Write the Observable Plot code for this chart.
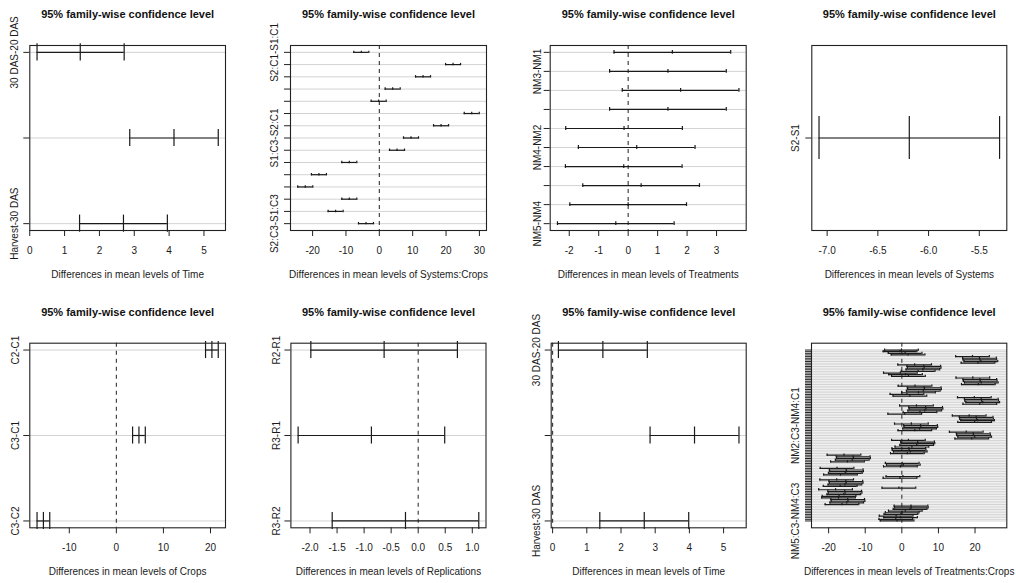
<!DOCTYPE html>
<html>
<head>
<meta charset="utf-8">
<script src="https://cdn.jsdelivr.net/npm/d3@7"></script>
<script src="https://cdn.jsdelivr.net/npm/@observablehq/plot@0.6"></script>
<style>
  html, body { margin: 0; padding: 0; background: #fff; }
  #grid { position: relative; width: 1016px; height: 583px; overflow: hidden; background: #fff; }
  .cell { position: absolute; width: 254px; }
  .cell svg { overflow: visible; }
</style>
</head>
<body>
<div id="grid"></div>
<script>
// Tukey HSD comparisons: difference in means with lower/upper 95% family-wise bounds.

const mainTitle = "95% family-wise confidence level";

// Time
const timeNames = ["30 DAS-20 DAS", "Harvest-20 DAS", "Harvest-30 DAS"];
const timeDiff = [1.45, 4.14, 2.69];
const timeLwr = [0.21, 2.87, 1.43];
const timeUpr = [2.71, 5.41, 3.95];
const timeTicks = [0, 1, 2, 3, 4, 5];

// Systems:Crops
const scNames = ["S2:C1-S1:C1", "S1:C2-S1:C1", "S2:C2-S1:C1", "S1:C3-S1:C1", "S2:C3-S1:C1",
  "S1:C2-S2:C1", "S2:C2-S2:C1", "S1:C3-S2:C1", "S2:C3-S2:C1", "S2:C2-S1:C2",
  "S1:C3-S1:C2", "S2:C3-S1:C2", "S1:C3-S2:C2", "S2:C3-S2:C2", "S2:C3-S1:C3"];
const scDiff = [-5.4, 22.1, 13.1, 4.0, -0.2, 27.7, 18.5, 9.5, 5.3, -9.0, -18.1, -22.2, -9.0, -13.1, -4.0];
const scLwr = [-7.65, 19.85, 10.85, 1.75, -2.45, 25.45, 16.25, 7.25, 3.05, -11.25, -20.35, -24.45, -11.25, -15.35, -6.25];
const scUpr = [-3.15, 24.35, 15.35, 6.25, 2.05, 29.95, 20.75, 11.75, 7.55, -6.75, -15.85, -19.95, -6.75, -10.85, -1.75];
const scTicks = [-20, -10, 0, 10, 20, 30];

// Treatments
const trNames = ["NM2-NM1", "NM3-NM1", "NM4-NM1", "NM5-NM1", "NM3-NM2",
  "NM4-NM2", "NM5-NM2", "NM4-NM3", "NM5-NM3", "NM5-NM4"];
const trDiff = [1.50, 1.35, 1.78, 1.35, -0.14, 0.29, -0.15, 0.44, 0.00, -0.42];
const trLwr = [-0.48, -0.63, -0.20, -0.63, -2.12, -1.69, -2.13, -1.54, -1.98, -2.40];
const trUpr = [3.48, 3.33, 3.76, 3.33, 1.84, 2.27, 1.83, 2.42, 1.98, 1.56];
const trTicks = [-2, -1, 0, 1, 2, 3];

// Systems
const sysNames = ["S2-S1"];
const sysDiff = [-6.19];
const sysLwr = [-7.08];
const sysUpr = [-5.30];
const sysTicks = [-7.0, -6.5, -6.0, -5.5];

// Crops
const cropNames = ["C2-C1", "C3-C1", "C3-C2"];
const cropDiff = [20.3, 4.8, -15.5];
const cropLwr = [18.95, 3.45, -16.85];
const cropUpr = [21.65, 6.15, -14.15];
const cropTicks = [-10, 0, 10, 20];

// Replications
const repNames = ["R2-R1", "R3-R1", "R3-R2"];
const repDiff = [-0.63, -0.865, -0.235];
const repLwr = [-1.985, -2.22, -1.59];
const repUpr = [0.725, 0.49, 1.12];
const repTicks = [-2.0, -1.5, -1.0, -0.5, 0.0, 0.5, 1.0];

// Time (second model)
const time2Names = ["30 DAS-20 DAS", "Harvest-20 DAS", "Harvest-30 DAS"];
const time2Diff = [1.47, 4.15, 2.68];
const time2Lwr = [0.17, 2.85, 1.38];
const time2Upr = [2.77, 5.45, 3.98];

// Treatments:Crops (15 levels, 105 pairwise comparisons)
const tcLevels = ["NM1:C1", "NM2:C1", "NM3:C1", "NM4:C1", "NM5:C1",
  "NM1:C2", "NM2:C2", "NM3:C2", "NM4:C2", "NM5:C2",
  "NM1:C3", "NM2:C3", "NM3:C3", "NM4:C3", "NM5:C3"];
const tcDiff = [
  -0.1, -0.5, 0.9, 1.7, 19.3, 21.2, 21.3, 21.6, 20.8, 3.5, 6.0, 6.1, 5.75, 4.45,
  -0.4, 1.0, 1.8, 19.4, 21.3, 21.4, 21.7, 20.9, 3.6, 6.1, 6.2, 5.85, 4.55,
  1.4, 2.2, 19.8, 21.7, 21.8, 22.1, 21.3, 4.0, 6.5, 6.6, 6.25, 4.95,
  0.8, 18.4, 20.3, 20.4, 20.7, 19.9, 2.6, 5.1, 5.2, 4.85, 3.55,
  17.6, 19.5, 19.6, 19.9, 19.1, 1.8, 4.3, 4.4, 4.05, 2.75,
  1.9, 2.0, 2.3, 1.5, -15.8, -13.3, -13.2, -13.55, -14.85,
  0.1, 0.4, -0.4, -17.7, -15.2, -15.1, -15.45, -16.75,
  0.3, -0.5, -17.8, -15.3, -15.2, -15.55, -16.85,
  -0.8, -18.1, -15.6, -15.5, -15.85, -17.15,
  -17.3, -14.8, -14.7, -15.05, -16.35,
  2.5, 2.6, 2.25, 0.95,
  0.1, -0.25, -1.55,
  -0.35, -1.65,
  -1.3
];
const tcHalfWidth = 4.6;
const tcTicks = [-20, -10, 0, 10, 20];

// comparison names in lower-triangle order: later level minus earlier level
const tcNames = [];
for (let i = 0; i < tcLevels.length; i++)
  for (let j = i + 1; j < tcLevels.length; j++) tcNames.push(`${tcLevels[j]}-${tcLevels[i]}`);
const tcLwr = tcDiff.map(d => +(d - tcHalfWidth).toFixed(2));
const tcUpr = tcDiff.map(d => +(d + tcHalfWidth).toFixed(2));

const font = "'Liberation Sans', Arial, Helvetica, sans-serif";
const ink = "#1a1a1a";

function tukeyPanel(o) {
  const n = o.names.length;
  const rows = o.names.map((name, i) => ({name, y: n - i, diff: o.diff[i], lwr: o.lwr[i], upr: o.upr[i]}));
  const lo = d3.min(o.lwr), hi = d3.max(o.upr), r = hi - lo;
  const xDomain = [lo - 0.04 * r, hi + 0.04 * r];
  const yDomain = n > 1 ? [1 - 0.04 * (n - 1), n + 0.04 * (n - 1)] : [0.568, 1.432];
  const cap = o.cap ?? 0.1;
  const caps = rows.flatMap(d => [d.lwr, d.diff, d.upr].map(x => ({x, y: d.y})));
  const labelled = rows.filter((d, i) => o.labelRows.includes(i + 1));
  const hasZero = xDomain[0] <= 0 && xDomain[1] >= 0;
  return Plot.plot({
    width: 254,
    height: o.height,
    marginLeft: o.box.left,
    marginRight: 254 - o.box.right,
    marginTop: o.box.top,
    marginBottom: o.height - o.box.bottom,
    x: {domain: xDomain},
    y: {domain: yDomain},
    style: {fontFamily: font, fontSize: "10px", color: ink, background: "transparent", overflow: "visible"},
    marks: [
      Plot.ruleY(rows, {y: "y", stroke: "#d3d3d3", strokeWidth: 1}),
      hasZero ? Plot.ruleX([0], {stroke: "#333", strokeWidth: 1.1, strokeDasharray: "4,4"}) : null,
      Plot.ruleY(rows, {y: "y", x1: "lwr", x2: "upr", stroke: ink, strokeWidth: 1.2}),
      Plot.ruleX(caps, {x: "x", y1: d => d.y - cap, y2: d => d.y + cap, stroke: ink, strokeWidth: 1.2}),
      Plot.frame({stroke: "#222", strokeWidth: 1.1}),
      Plot.axisX({ticks: o.ticks, tickFormat: o.tickFormat, tickSize: 6, tickPadding: 10, label: null, stroke: "#222"}),
      Plot.axisY({ticks: rows.map(d => d.y), tickSize: 6, tickFormat: () => "", label: null, stroke: "#222"}),
      Plot.text(labelled, {y: "y", text: "name", frameAnchor: "left", dx: -o.labelGap, rotate: -90,
        textAnchor: "middle", lineAnchor: "bottom", fontSize: 10, fill: ink}),
      Plot.text([mainTitle], {frameAnchor: "top", dy: -31, lineAnchor: "middle", fontSize: 11, fontWeight: "bold", fill: "#111"}),
      Plot.text([o.xlabel], {frameAnchor: "bottom", dy: 44, lineAnchor: "middle", fontSize: 10, fill: ink})
    ]
  });
}

const oneDecimal = d => d.toFixed(1);
const plain = d => String(d);

const topBox = {top: 45, bottom: 230};
const botBox = {top: 52.7, bottom: 237.3};

const panels = [
  {col: 0, row: 0, names: timeNames, diff: timeDiff, lwr: timeLwr, upr: timeUpr, ticks: timeTicks, tickFormat: plain,
   xlabel: "Differences in mean levels of Time", labelRows: [1, 3], labelGap: 12, box: {left: 29.3, right: 225, ...topBox}},
  {col: 1, row: 0, names: scNames, diff: scDiff, lwr: scLwr, upr: scUpr, ticks: scTicks, tickFormat: plain,
   xlabel: "Differences in mean levels of Systems:Crops", labelRows: [1, 8, 15], labelGap: 13, box: {left: 36, right: 232, ...topBox}},
  {col: 2, row: 0, names: trNames, diff: trDiff, lwr: trLwr, upr: trUpr, ticks: trTicks, tickFormat: plain,
   xlabel: "Differences in mean levels of Treatments", labelRows: [2, 6, 10], labelGap: 9, box: {left: 41.7, right: 237.7, ...topBox}},
  {col: 3, row: 0, names: sysNames, diff: sysDiff, lwr: sysLwr, upr: sysUpr, ticks: sysTicks, tickFormat: oneDecimal,
   xlabel: "Differences in mean levels of Systems", labelRows: [1], labelGap: 12.5, box: {left: 49.3, right: 244.3, ...topBox}},
  {col: 0, row: 1, names: cropNames, diff: cropDiff, lwr: cropLwr, upr: cropUpr, ticks: cropTicks, tickFormat: plain,
   xlabel: "Differences in mean levels of Crops", labelRows: [1, 2, 3], labelGap: 11, box: {left: 29.3, right: 225, ...botBox}},
  {col: 1, row: 1, names: repNames, diff: repDiff, lwr: repLwr, upr: repUpr, ticks: repTicks, tickFormat: oneDecimal,
   xlabel: "Differences in mean levels of Replications", labelRows: [1, 2, 3], labelGap: 11.4, box: {left: 36.4, right: 231.5, ...botBox}},
  {col: 2, row: 1, names: time2Names, diff: time2Diff, lwr: time2Lwr, upr: time2Upr, ticks: timeTicks, tickFormat: plain,
   xlabel: "Differences in mean levels of Time", labelRows: [1, 3], labelGap: 11, box: {left: 42.7, right: 237.7, ...botBox}},
  {col: 3, row: 1, names: tcNames, diff: tcDiff, lwr: tcLwr, upr: tcUpr, ticks: tcTicks, tickFormat: plain, cap: 0.7,
   xlabel: "Differences in mean levels of Treatments:Crops", labelRows: [47, 105], labelGap: 13, box: {left: 49, right: 244.3, ...botBox}}
];

const grid = document.getElementById("grid");
for (const p of panels) {
  const height = p.row === 0 ? 290 : 293;
  const cell = document.createElement("div");
  cell.className = "cell";
  cell.style.left = `${p.col * 254}px`;
  cell.style.top = `${p.row === 0 ? 0 : 290}px`;
  cell.style.height = `${height}px`;
  cell.appendChild(tukeyPanel({...p, height}));
  grid.appendChild(cell);
}
</script>
</body>
</html>
